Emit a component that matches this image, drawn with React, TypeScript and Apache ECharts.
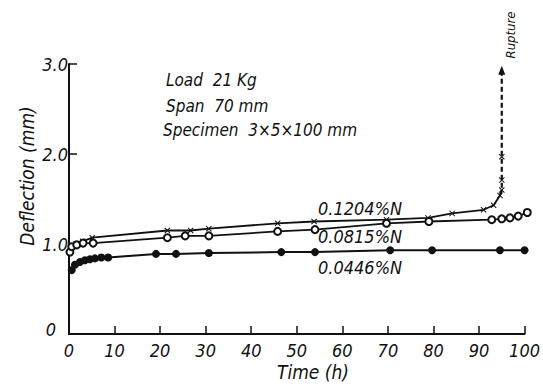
import React, { useEffect, useRef } from "react";
import * as echarts from "echarts";

// Time (h) vs Deflection (mm)
const seriesNames = ["0.1204%N", "0.0815%N", "0.0446%N"];

const n0446: number[][] = [
  [0.6, 0.71], [1.3, 0.77], [2.4, 0.8], [3.5, 0.82], [4.6, 0.83], [5.7, 0.84],
  [7.1, 0.85], [8.6, 0.85], [19.1, 0.89], [23.5, 0.89], [30.7, 0.9], [46.6, 0.91],
  [54, 0.91], [70.5, 0.93], [79.7, 0.93], [94.6, 0.93], [100, 0.93],
];

const n0815: number[][] = [
  [0.2, 0.91], [0.6, 0.97], [1.7, 0.99], [3.1, 1.01], [5.3, 1.01], [21.6, 1.07],
  [25.5, 1.09], [30.7, 1.09], [45.8, 1.14], [54, 1.16], [69.7, 1.23], [79, 1.25],
  [92.8, 1.27], [95, 1.28], [96.8, 1.29], [98.6, 1.31], [100.6, 1.35],
];

const n1204: number[][] = [
  [0.5, 0.95], [1.5, 1.0], [3, 1.03], [5.1, 1.07], [21.6, 1.15], [26.7, 1.15],
  [30.7, 1.17], [45.8, 1.23], [53.8, 1.25], [69.7, 1.27], [78.8, 1.29], [84.1, 1.34],
  [91, 1.38], [93.2, 1.43], [94.6, 1.54],
];

const n1204Rupture: number[][] = [
  [94.6, 1.54], [95, 1.6], [95, 1.71], [95, 1.97], [95, 2.93],
];

const annotations = ["Load  21 Kg", "Span  70 mm", "Specimen  3×5×100 mm"];
const xTitle = "Time (h)";
const yTitle = "Deflection (mm)";
const ruptureLabel = "Rupture";
const yZeroLabel = "0";

const FONT = '"DejaVu Sans Condensed", "Liberation Sans Narrow", "DejaVu Sans", sans-serif';
const INK = "#111";
const CROSS = "path://M0,1.2L1.2,0L5,3.8L8.8,0L10,1.2L6.2,5L10,8.8L8.8,10L5,6.2L1.2,10L0,8.8L3.8,5Z";

export default function App() {
  const ref = useRef<HTMLDivElement>(null);
  useEffect(() => {
    if (!ref.current) return;
    const chart = echarts.init(ref.current, null, { renderer: "svg" });
    const txt = (x: number, y: number, text: string, size: number, extra: any = {}) => ({
      type: "text",
      x,
      y,
      style: {
        text,
        fill: INK,
        font: `italic ${size}px ${FONT}`,
        textAlign: "left",
        textVerticalAlign: "middle",
        ...extra,
      },
    });
    const rupturePts = n1204Rupture.map((p, i) =>
      i === n1204Rupture.length - 1
        ? { value: p, symbol: "triangle", symbolSize: [7, 9] }
        : i === 0
        ? { value: p, symbol: "none" }
        : { value: p }
    );
    chart.setOption({
      animation: false,
      backgroundColor: "#fff",
      grid: { left: 69, right: 15, top: 64, bottom: 53 },
      xAxis: {
        type: "value",
        min: 0,
        max: 100,
        interval: 10,
        axisLine: { lineStyle: { color: INK, width: 2 } },
        axisTick: { inside: true, length: 8, lineStyle: { color: INK, width: 1.5 } },
        axisLabel: { color: INK, fontSize: 18, fontStyle: "italic", fontFamily: FONT, margin: 7 },
        splitLine: { show: false },
      },
      yAxis: {
        type: "value",
        min: 0,
        max: 3,
        interval: 1,
        axisLine: { show: true, lineStyle: { color: INK, width: 2 } },
        axisTick: { show: true, inside: true, length: 8, lineStyle: { color: INK, width: 1.5 } },
        axisLabel: {
          color: INK,
          fontSize: 18,
          fontStyle: "italic",
          fontFamily: FONT,
          margin: 1,
          showMinLabel: false,
          formatter: (v: number) => (v === 0 ? "" : v.toFixed(1)),
        },
        splitLine: { show: false },
      },
      series: [
        {
          name: seriesNames[0],
          type: "line",
          data: n1204,
          symbol: CROSS,
          symbolSize: 6,
          clip: false,
          lineStyle: { color: INK, width: 1.8 },
          itemStyle: { color: INK },
        },
        {
          name: seriesNames[0] + " rupture",
          type: "line",
          data: rupturePts,
          symbol: CROSS,
          symbolSize: 6,
          clip: false,
          lineStyle: { color: INK, width: 2.2, type: [5, 3] },
          itemStyle: { color: INK },
        },
        {
          name: seriesNames[1],
          type: "line",
          data: n0815,
          symbol: "emptyCircle",
          symbolSize: 7,
          clip: false,
          lineStyle: { color: INK, width: 1.8 },
          itemStyle: { color: INK, borderWidth: 1.5 },
        },
        {
          name: seriesNames[2],
          type: "line",
          data: n0446,
          symbol: "circle",
          symbolSize: 8,
          clip: false,
          lineStyle: { color: INK, width: 2 },
          itemStyle: { color: INK },
        },
      ],
      graphic: [
        txt(166, 80, annotations[0], 17),
        txt(166, 106, annotations[1], 17),
        txt(163, 130, annotations[2], 17),
        txt(318, 208, seriesNames[0], 18),
        txt(318, 236, seriesNames[1], 18),
        txt(318, 267, seriesNames[2], 18),
        txt(313, 372, xTitle, 19, { textAlign: "center" }),
        txt(51, 329, yZeroLabel, 18, { textAlign: "center" }),
        {
          type: "text",
          x: 27,
          y: 176,
          rotation: Math.PI / 2,
          style: {
            text: yTitle,
            fill: INK,
            font: `italic 19px ${FONT}`,
            textAlign: "center",
            textVerticalAlign: "middle",
          },
        },
        {
          type: "text",
          x: 510,
          y: 35,
          rotation: Math.PI / 2,
          style: {
            text: ruptureLabel,
            fill: INK,
            font: `italic 13px ${FONT}`,
            textAlign: "center",
            textVerticalAlign: "middle",
          },
        },
      ],
    });
    return () => chart.dispose();
  }, []);
  return (
    <div
      ref={ref}
      style={{ position: "fixed", left: 0, top: 0, width: 543, height: 387, background: "#fff" }}
    />
  );
}
